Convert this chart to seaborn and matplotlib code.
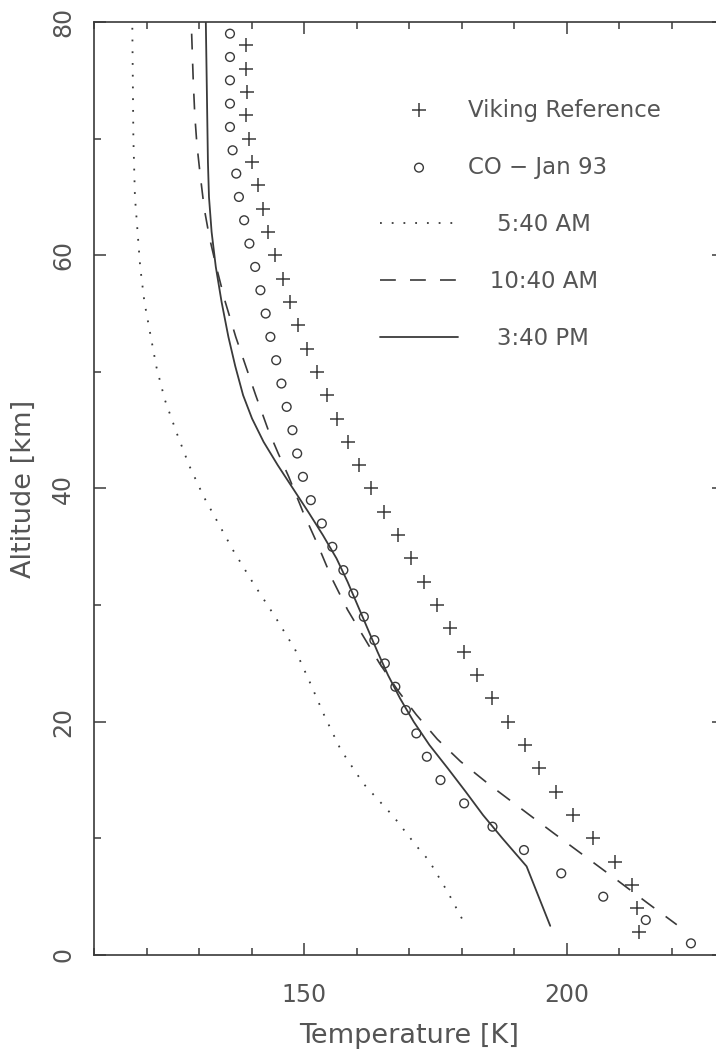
import numpy as np
import pandas as pd
import matplotlib
matplotlib.use("Agg")
import matplotlib.pyplot as plt
from matplotlib.ticker import MultipleLocator
import seaborn as sns

# ---------------- data ----------------
viking_alt = [2, 4, 6, 8, 10, 12, 14, 16, 18, 20, 22, 24, 26, 28, 30, 32, 34, 36, 38, 40,
              42, 44, 46, 48, 50, 52, 54, 56, 58, 60, 62, 64, 66, 68, 70, 72, 74, 76, 78]
viking_T = [213.9, 213.4, 212.4, 209.2, 205.0, 201.3, 198.0, 194.8, 192.0, 188.8,
            185.8, 183.0, 180.5, 177.9, 175.4, 172.8, 170.4, 167.9, 165.2, 162.8,
            160.4, 158.3, 156.3, 154.4, 152.4, 150.6, 148.9, 147.3, 146.0, 144.5,
            143.1, 142.2, 141.2, 140.1, 139.6, 139.0, 139.1, 139.0, 139.0]

co_alt = [1, 3, 5, 7, 9, 11, 13, 15, 17, 19, 21, 23, 25, 27, 29, 31, 33, 35, 37, 39,
          41, 43, 45, 47, 49, 51, 53, 55, 57, 59, 61, 63, 65, 67, 69, 71, 73, 75, 77, 79]
co_T = [223.7, 215.1, 207.0, 199.0, 191.9, 185.9, 180.5, 176.0, 173.4, 171.4,
        169.4, 167.4, 165.4, 163.4, 161.4, 159.4, 157.5, 155.4, 153.4, 151.3,
        149.8, 148.7, 147.8, 146.7, 145.7, 144.7, 143.6, 142.7, 141.7, 140.7,
        139.6, 138.6, 137.6, 137.1, 136.4, 135.9, 135.9, 135.9, 135.9, 135.9]

am540_alt = [79.5, 70, 65, 59, 56, 53.3, 50.4, 47.6, 44.7, 41.9, 39.3, 34.7, 31.9, 29,
             26.2, 23.3, 20.4, 17.6, 14.7, 11.9, 9.3, 8.1, 5.3, 2.6]
am540_T = [117.3, 117.5, 117.8, 118.8, 119.6, 120.7, 121.9, 123.5, 125.8, 128.2, 130.9,
           136.5, 140.3, 144.5, 148.3, 151.2, 154.0, 157.0, 161.3, 167.0, 171.5, 173.8,
           177.5, 180.7]

am1040_alt = [79, 75, 72, 69.5, 67, 64, 61.5, 59, 56, 53, 50.5, 48, 45, 43, 41, 38,
              35.3, 32.3, 29.6, 27.7, 25, 22.6, 20.6, 18.5, 16.6, 14.5, 12.5, 10.5,
              8.5, 6.5, 4.5, 2.6]
am1040_T = [128.6, 128.9, 129.2, 129.6, 130.2, 131.0, 132.0, 133.3, 135.0, 137.0, 138.9,
            140.8, 143.2, 145.1, 147.1, 149.8, 152.5, 155.3, 158.3, 160.8, 164.4, 168.0,
            171.4, 175.4, 179.8, 185.6, 191.5, 197.4, 203.4, 209.4, 215.3, 221.0]

pm340_alt = [80, 74, 68, 65, 62, 59, 56, 53, 50.5, 48, 46, 44, 42, 40, 38, 36, 34, 32,
             30, 28, 26, 24, 22, 20, 18, 16, 14, 12, 10, 7.6, 2.5]
pm340_T = [131.3, 131.5, 131.7, 131.9, 132.4, 133.2, 134.3, 135.6, 136.9, 138.4, 140.1,
           142.3, 145.0, 147.9, 150.8, 153.6, 156.2, 158.3, 160.2, 162.1, 164.0, 166.0,
           168.3, 170.9, 173.9, 177.4, 180.8, 184.1, 187.8, 192.4, 196.9]

labels = ["Viking Reference", "CO \u2212 Jan 93", "    5:40 AM", "   10:40 AM", "    3:40 PM"]
x_ticks = [150, 200]
y_ticks = [0, 20, 40, 60, 80]

# ---------------- style ----------------
sns.set_theme(style="ticks")
plt.rcParams["font.family"] = ["DejaVu Sans"]
line_c = "#3a3a3a"
text_c = "#555555"

fig = plt.figure(figsize=(7.16, 10.51), dpi=100)
ax = fig.add_axes([94 / 716, 96 / 1051, 630 / 716, 933 / 1051])

sns.scatterplot(x=viking_T, y=viking_alt, marker="+", s=95, color=line_c,
                linewidth=1.1, label=labels[0], ax=ax)
sns.scatterplot(x=co_T, y=co_alt, marker="o", s=40, facecolor="none",
                edgecolor=line_c, linewidth=1.0, label=labels[1], ax=ax)
sns.lineplot(x=am540_T, y=am540_alt, sort=False, estimator=None, color=line_c,
             linewidth=1.3, linestyle=(0, (1, 5.5)), label=labels[2], ax=ax)
sns.lineplot(x=am1040_T, y=am1040_alt, sort=False, estimator=None, color=line_c,
             linewidth=1.2, linestyle=(0, (9.5, 8.5)), label=labels[3], ax=ax)
sns.lineplot(x=pm340_T, y=pm340_alt, sort=False, estimator=None, color=line_c,
             linewidth=1.3, linestyle="-", label=labels[4], ax=ax)

ax.set_xlim(110, 230)
ax.set_ylim(0, 80)
ax.set_xticks(x_ticks)
ax.set_yticks(y_ticks)
ax.xaxis.set_minor_locator(MultipleLocator(10))
ax.yaxis.set_minor_locator(MultipleLocator(10))
ax.tick_params(which="both", direction="in", top=True, right=True,
               color=line_c, width=1.1, labelcolor=text_c)
ax.tick_params(which="major", length=8.6)
ax.tick_params(which="minor", length=4.7)
ax.tick_params(axis="x", which="major", labelsize=17, pad=20)
ax.tick_params(axis="y", which="major", labelsize=17, pad=13.5)
for lab in ax.get_yticklabels():
    lab.set_rotation(90)
    lab.set_va("center")
for sp in ax.spines.values():
    sp.set_color(line_c)
    sp.set_linewidth(1.2)

ax.set_xlabel("Temperature [K]", fontsize=19.5, color=text_c, labelpad=12)
ax.set_ylabel("Altitude [km]", fontsize=19.5, color=text_c, labelpad=10)

h, l = ax.get_legend_handles_labels()
order = [l.index(s) for s in labels]
leg = ax.legend([h[i] for i in order], [l[i] for i in order], loc="upper left",
                bbox_to_anchor=(0.454, 0.918), frameon=False, borderpad=0,
                borderaxespad=0, handlelength=3.4, handletextpad=0.45,
                labelspacing=1.49, fontsize=16.5, scatterpoints=1)
for t in leg.get_texts():
    t.set_color(text_c)

fig.savefig("out.png", dpi=100)
